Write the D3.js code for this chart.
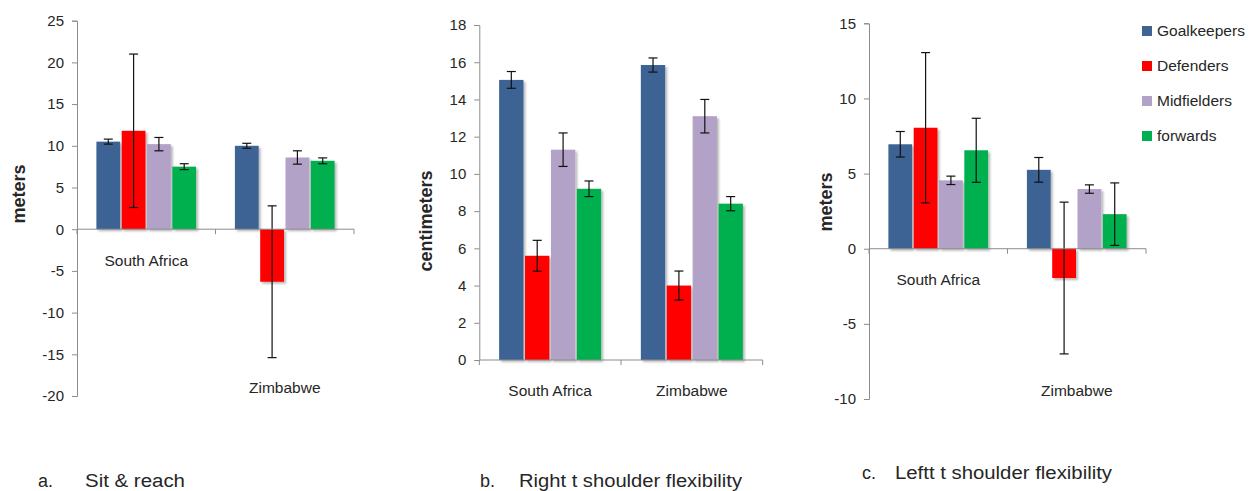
<!DOCTYPE html>
<html><head><meta charset="utf-8">
<script src="https://cdn.jsdelivr.net/npm/d3@7"></script>
<style>
body{margin:0;background:#fff;}
svg{display:block;}
text{font-family:"Liberation Sans",Arial,sans-serif;fill:#262626;}
</style></head>
<body>
<svg id="chart" width="1259" height="491"></svg>
<script>
// ---- data ----
const categories = ["South Africa", "Zimbabwe"];
const seriesNames = ["Goalkeepers", "Defenders", "Midfielders", "forwards"];
const seriesColors = ["#3D6494", "#FF0000", "#B2A2C7", "#00B050"];

// a. Sit & reach (meters)
const sitReachSA = [10.5, 11.8, 10.2, 7.5];
const sitReachZW = [10.0, -6.3, 8.6, 8.2];
const sitReachErrSA = [0.3, 9.2, 0.8, 0.35];
const sitReachErrZW = [0.3, 9.1, 0.8, 0.35];

// b. Right shoulder flexibility (centimeters)
const rightShoulderSA = [15.05, 5.6, 11.3, 9.2];
const rightShoulderZW = [15.85, 4.0, 13.1, 8.4];
const rightShoulderErrSA = [0.45, 0.83, 0.9, 0.42];
const rightShoulderErrZW = [0.38, 0.78, 0.9, 0.38];

// c. Left shoulder flexibility (meters)
const leftShoulderSA = [6.95, 8.05, 4.55, 6.55];
const leftShoulderZW = [5.25, -1.95, 3.97, 2.3];
const leftShoulderErrSA = [0.85, 5.0, 0.28, 2.13];
const leftShoulderErrZW = [0.82, 5.05, 0.28, 2.08];

const sitReachTicks = [-20, -15, -10, -5, 0, 5, 10, 15, 20, 25];
const rightShoulderTicks = [0, 2, 4, 6, 8, 10, 12, 14, 16, 18];
const leftShoulderTicks = [-10, -5, 0, 5, 10, 15];

const captions = [
  {letter: "a.", text: "Sit & reach"},
  {letter: "b.", text: "Right t shoulder flexibility"},
  {letter: "c.", text: "Leftt t shoulder flexibility"}
];

// ---- layout ----
const svg = d3.select("#chart");
const defs = svg.append("defs");
const f = defs.append("filter").attr("id", "shadow").attr("x", "-20%").attr("y", "-20%").attr("width", "150%").attr("height", "150%");
f.append("feDropShadow").attr("dx", 2).attr("dy", 2).attr("stdDeviation", 1.3)
  .attr("flood-color", "#000").attr("flood-opacity", 0.28);

const panels = [
  {means: [sitReachSA, sitReachZW], errs: [sitReachErrSA, sitReachErrZW], ticks: sitReachTicks,
   domain: [-20, 25], left: 77, right: 354, top: 20.7, bottom: 396, ylabel: "meters", ylabelX: 18.5, ylabelY: 194},
  {means: [rightShoulderSA, rightShoulderZW], errs: [rightShoulderErrSA, rightShoulderErrZW], ticks: rightShoulderTicks,
   domain: [0, 18], left: 479.3, right: 762.7, top: 25, bottom: 360, ylabel: "centimeters", ylabelX: 426, ylabelY: 221},
  {means: [leftShoulderSA, leftShoulderZW], errs: [leftShoulderErrSA, leftShoulderErrZW], ticks: leftShoulderTicks,
   domain: [-10, 15], left: 869, right: 1146, top: 23.3, bottom: 399, ylabel: "meters", ylabelX: 826, ylabelY: 202}
];

const axisColor = "#8c8c8c";
const fmt = d => String(d);

panels.forEach(p => {
  const g = svg.append("g");
  const y = d3.scaleLinear().domain(p.domain).range([p.bottom, p.top]);
  const x = d3.scaleBand().domain(categories).range([p.left, p.right]).paddingInner(0).paddingOuter(0);
  const bw = x.bandwidth();
  const xs = d3.scaleBand().domain(seriesNames).range([bw * 0.14, bw * 0.86]).paddingInner(0.06).paddingOuter(0);

  // y axis
  const yAxis = d3.axisLeft(y).tickValues(p.ticks).tickSize(5).tickPadding(8).tickFormat(fmt);
  const ya = g.append("g").attr("transform", `translate(${p.left},0)`).call(yAxis);
  ya.select(".domain").attr("stroke", axisColor);
  ya.selectAll(".tick line").attr("stroke", axisColor);
  ya.selectAll(".tick text").attr("font-size", 15).attr("fill", "#262626")
    .attr("font-family", "'Liberation Sans', Arial, sans-serif");

  // bars
  categories.forEach((cat, ci) => {
    const cg = g.append("g").attr("transform", `translate(${x(cat)},0)`);
    seriesNames.forEach((s, si) => {
      const v = p.means[ci][si];
      cg.append("rect")
        .attr("x", xs(s)).attr("width", xs.bandwidth())
        .attr("y", Math.min(y(v), y(0))).attr("height", Math.abs(y(v) - y(0)))
        .attr("fill", seriesColors[si]).attr("filter", "url(#shadow)");
    });
    seriesNames.forEach((s, si) => {
      const v = p.means[ci][si], e = p.errs[ci][si];
      const cx = xs(s) + xs.bandwidth() / 2;
      cg.append("line").attr("x1", cx).attr("x2", cx).attr("y1", y(v + e)).attr("y2", y(v - e))
        .attr("stroke", "#111").attr("stroke-width", 1.2);
      [v + e, v - e].forEach(t => cg.append("line").attr("x1", cx - 4.5).attr("x2", cx + 4.5)
        .attr("y1", y(t)).attr("y2", y(t)).attr("stroke", "#111").attr("stroke-width", 1.2));
    });
  });

  // x axis at zero
  const xa = g.append("g").attr("transform", `translate(0,${y(0)})`);
  xa.append("line").attr("x1", p.left).attr("x2", p.right).attr("stroke", axisColor);
  [p.left, ...categories.map(c => x(c) + bw)].forEach(t =>
    xa.append("line").attr("x1", t).attr("x2", t).attr("y1", 0).attr("y2", 5).attr("stroke", axisColor));

  // category labels
  categories.forEach((cat, ci) => {
    const hasNeg = d3.min(p.means[ci]) < 0;
    const ly = hasNeg ? p.bottom - 8 : y(0) + 31;
    g.append("text").attr("x", x(cat) + bw / 2).attr("y", ly).attr("dy", "0.35em")
      .attr("text-anchor", "middle").attr("font-size", 15.5).text(cat);
  });

  // y label
  g.append("text").attr("transform", `translate(${p.ylabelX},${p.ylabelY}) rotate(-90)`)
    .attr("text-anchor", "middle").attr("dy", "0.35em").attr("font-size", 18).attr("font-weight", "bold")
    .attr("fill", "#000").text(p.ylabel);
});

// legend
const lg = svg.append("g");
seriesNames.forEach((s, i) => {
  const ly = 31 + i * 35;
  lg.append("rect").attr("x", 1142).attr("y", ly - 5).attr("width", 10).attr("height", 10).attr("fill", seriesColors[i]);
  lg.append("text").attr("x", 1157).attr("y", ly).attr("dy", "0.35em").attr("font-size", 15.5).text(s);
});

// captions
const capPos = [{lx: 38, tx: 85, y: 481, w: 100}, {lx: 480, tx: 519, y: 481, w: 223}, {lx: 862, tx: 895, y: 473, w: 217}];
captions.forEach((c, i) => {
  const pp = capPos[i];
  svg.append("text").attr("x", pp.lx).attr("y", pp.y).attr("dy", "0.35em").attr("font-size", 18)
    .attr("font-family", "'Liberation Sans Narrow','Liberation Sans',Arial,sans-serif").attr("fill", "#000").text(c.letter);
  svg.append("text").attr("x", pp.tx).attr("y", pp.y).attr("dy", "0.35em").attr("font-size", 18)
    .attr("font-family", "'Liberation Sans Narrow','Liberation Sans',Arial,sans-serif").attr("fill", "#000")
    .attr("textLength", pp.w).attr("lengthAdjust", "spacingAndGlyphs").text(c.text);
});
</script>
</body></html>
